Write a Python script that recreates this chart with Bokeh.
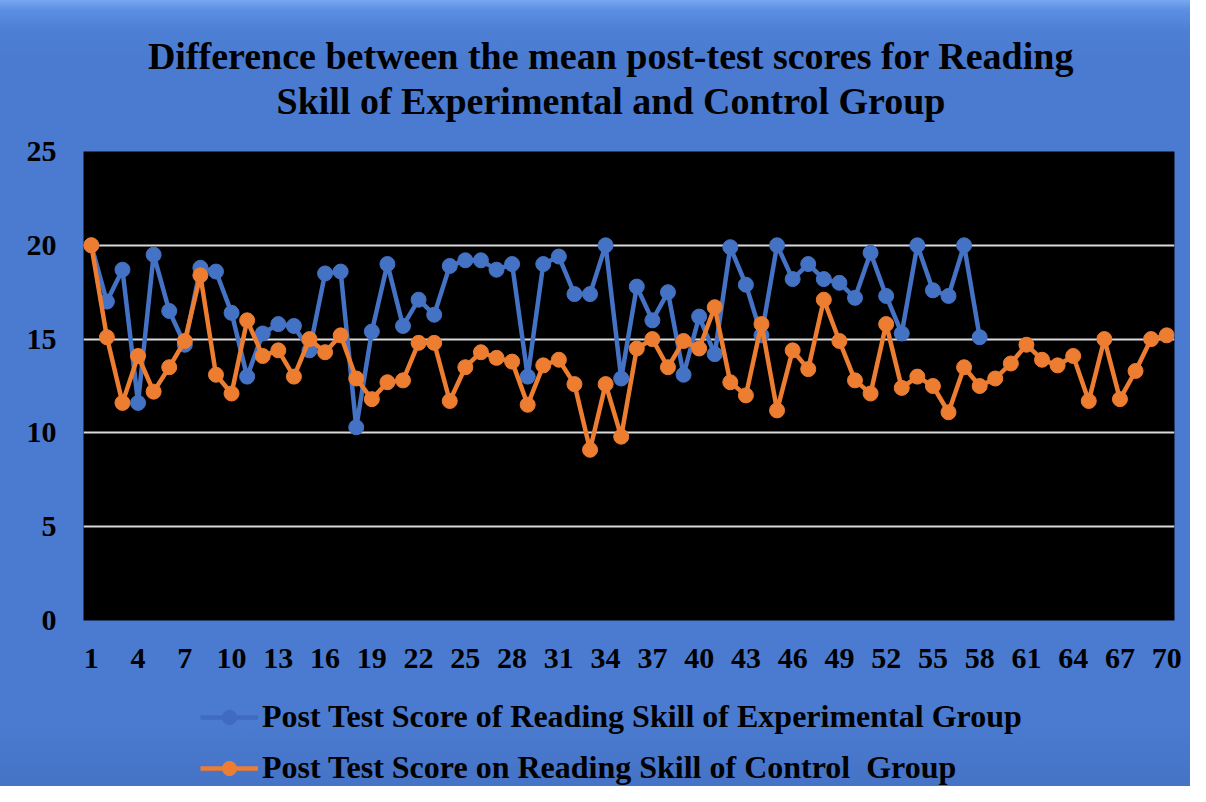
from bokeh.plotting import figure
from bokeh.layouts import column
from bokeh.models import (FixedTicker, Legend, LegendItem, Label, Range1d,
                          ColumnDataSource)
from bokeh.embed import file_html
from bokeh.resources import INLINE

# ---- data ----
experimental = [20.0, 17.0, 18.7, 11.6, 19.5, 16.5, 14.7, 18.8, 18.6, 16.4,
                13.0, 15.3, 15.8, 15.7, 14.4, 18.5, 18.6, 10.3, 15.4, 19.0,
                15.7, 17.1, 16.3, 18.9, 19.2, 19.2, 18.7, 19.0, 13.0, 19.0,
                19.4, 17.4, 17.4, 20.0, 12.9, 17.8, 16.0, 17.5, 13.1, 16.2,
                14.2, 19.9, 17.9, 15.2, 20.0, 18.2, 19.0, 18.2, 18.0, 17.2,
                19.6, 17.3, 15.3, 20.0, 17.6, 17.3, 20.0, 15.1]
control = [20.0, 15.1, 11.6, 14.1, 12.2, 13.5, 14.9, 18.4, 13.1, 12.1,
           16.0, 14.1, 14.4, 13.0, 15.0, 14.3, 15.2, 12.9, 11.8, 12.7,
           12.8, 14.8, 14.8, 11.7, 13.5, 14.3, 14.0, 13.8, 11.5, 13.6,
           13.9, 12.6, 9.1, 12.6, 9.8, 14.5, 15.0, 13.5, 14.9, 14.5,
           16.7, 12.7, 12.0, 15.8, 11.2, 14.4, 13.4, 17.1, 14.9, 12.8,
           12.1, 15.8, 12.4, 13.0, 12.5, 11.1, 13.5, 12.5, 12.9, 13.7,
           14.7, 13.9, 13.6, 14.1, 11.7, 15.0, 11.8, 13.3, 15.0, 15.2]
x_exp = list(range(1, len(experimental) + 1))
x_ctl = list(range(1, len(control) + 1))
x_ticks = list(range(1, 71, 3))
y_ticks = [0, 5, 10, 15, 20, 25]
title_lines = ["Difference between the mean post-test scores for Reading",
               "Skill of Experimental and Control Group"]
label_exp = "Post Test Score of Reading Skill of Experimental Group"
label_ctl = "Post Test Score on Reading Skill of Control  Group"

BLUE = "#4472C4"
ORANGE = "#ED7D31"
BG = "#4a7bd0"
FONT = "Liberation Serif"
W = 1190

src_exp = ColumnDataSource(dict(x=x_exp, y=experimental))
src_ctl = ColumnDataSource(dict(x=x_ctl, y=control))


def bare(fig):
    fig.grid.visible = False
    fig.outline_line_color = None
    fig.background_fill_alpha = 0
    fig.border_fill_alpha = 0


# ---- title strip ----
tf = figure(width=W, height=130, output_backend="svg", toolbar_location=None,
            x_range=Range1d(0, 1), y_range=Range1d(0, 130),
            x_axis_location=None, y_axis_location=None,
            min_border=0, min_border_left=83, min_border_right=16)
bare(tf)
for txt, yy in zip(title_lines, [75, 30]):
    tf.add_layout(Label(x=0.5, y=yy, x_offset=-18, text=txt, text_align="center",
                        text_baseline="middle", text_font=FONT,
                        text_font_size="38px", text_font_style="bold",
                        text_color="black"))

# ---- main chart ----
p = figure(width=W, height=560, output_backend="svg", toolbar_location=None,
           x_range=Range1d(0.5, 70.5), y_range=Range1d(0, 25),
           min_border_left=83, min_border_right=16, min_border_top=21,
           min_border_bottom=70)
p.outline_line_color = None
p.background_fill_color = "black"
p.border_fill_alpha = 0

for ax in (p.xaxis[0], p.yaxis[0]):
    ax.axis_line_color = None
    ax.major_tick_line_color = None
    ax.minor_tick_line_color = None
    ax.major_label_text_font = FONT
    ax.major_label_text_font_size = "30px"
    ax.major_label_text_font_style = "bold"
    ax.major_label_text_color = "black"
p.xaxis.ticker = FixedTicker(ticks=x_ticks)
p.yaxis.ticker = FixedTicker(ticks=y_ticks)
p.xaxis.major_label_standoff = 22
p.yaxis.major_label_standoff = 21

p.xgrid.grid_line_color = None
p.ygrid.grid_line_color = "#d9d9d9"
p.ygrid.grid_line_width = 2

p.line("x", "y", source=src_exp, line_color=BLUE, line_width=4.5)
p.scatter("x", "y", source=src_exp, size=15, fill_color=BLUE, line_color=BLUE)
p.line("x", "y", source=src_ctl, line_color=ORANGE, line_width=4.5)
p.scatter("x", "y", source=src_ctl, size=15, fill_color=ORANGE, line_color=ORANGE)

# ---- legend strip (same series drawn out of view; only legend glyphs show) ----
lg = figure(width=W, height=96, output_backend="svg", toolbar_location=None,
            x_range=Range1d(0.5, 70.5), y_range=Range1d(1000, 1001),
            x_axis_location=None, y_axis_location=None,
            min_border=0, min_border_left=83, min_border_right=16)
bare(lg)
e_l = lg.line("x", "y", source=src_exp, line_color="#3f6cc0", line_width=4.5)
e_c = lg.scatter("x", "y", source=src_exp, size=15, fill_color="#3f6cc0", line_color="#3f6cc0")
c_l = lg.line("x", "y", source=src_ctl, line_color=ORANGE, line_width=4.5)
c_c = lg.scatter("x", "y", source=src_ctl, size=15, fill_color=ORANGE, line_color=ORANGE)
legend = Legend(items=[LegendItem(label=label_exp, renderers=[e_l, e_c]),
                       LegendItem(label=label_ctl, renderers=[c_l, c_c])],
                orientation="vertical", location=(117, 0),
                label_text_font=FONT, label_text_font_size="32px",
                label_text_font_style="bold", label_text_color="black",
                glyph_width=58, glyph_height=36, label_height=36,
                label_standoff=4, spacing=14, padding=0, margin=0,
                background_fill_alpha=0, border_line_alpha=0)
lg.add_layout(legend, "center")

layout = column(tf, p, lg, spacing=0, styles={
    "background": "linear-gradient(to bottom, #79a7f3 0px, #5b8fe2 10px, "
                  "#4d80d5 30px, #4a7bd0 60px, #4a7bd0 92%, #4573c6 100%)"})
open("out.html", "w").write(file_html(layout, INLINE))
